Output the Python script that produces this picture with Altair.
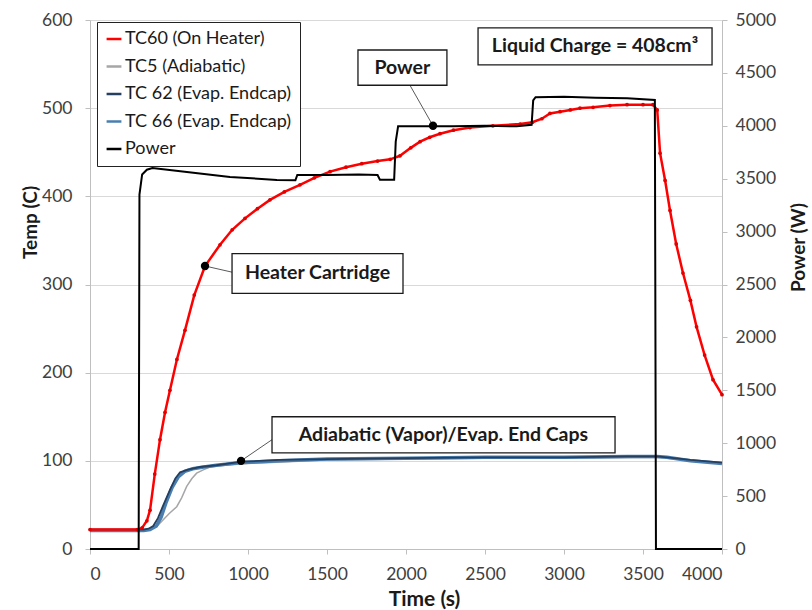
import altair as alt
import pandas as pd

FONT = "Lato"

# ---------------- data ----------------
series_names = ["TC60 (On Heater)", "TC5 (Adiabatic)", "TC 62 (Evap. Endcap)",
                "TC 66 (Evap. Endcap)", "Power"]
series_colors = ["#FF0000", "#A6A6A6", "#243F60", "#4A7EAF", "#000000"]

time_tc60 = [0, 300, 330, 360, 380, 410, 443, 475, 506, 550, 601, 660, 728, 823, 900, 981,
             1060, 1139, 1230, 1329, 1420, 1519, 1620, 1720, 1820, 1900, 1962, 2030, 2089,
             2150, 2215, 2300, 2405, 2550, 2722, 2800, 2860, 2911, 2975, 3040, 3101, 3184,
             3291, 3399, 3500, 3563, 3590, 3608, 3640, 3671, 3710, 3753, 3800, 3839, 3890,
             3943, 4000]
temp_tc60 = [22, 22, 24, 32, 44, 85, 124, 155, 180, 215, 248, 288, 321, 345, 362, 375,
             386, 396, 405, 413, 421, 428, 433, 437, 440, 442, 446, 455, 462,
             467, 471, 475, 478, 480, 482, 484, 488, 494, 496, 498, 500, 501,
             503, 504, 504, 504, 498, 449, 418, 384, 346, 313, 282, 252, 220,
             192, 175]

time_tc5 = [0, 380, 420, 462, 500, 549, 580, 612, 645, 675, 720, 759, 850, 1000, 1500,
            2000, 2500, 3000, 3589, 3652, 4000]
temp_tc5 = [22, 22, 25, 33, 40, 48, 58, 71, 80, 86, 90, 93, 95, 97, 101,
            102, 103, 103, 104, 103, 97]

time_tc62 = [0, 340, 370, 400, 430, 460, 506, 540, 570, 620, 696, 800, 960, 1200, 1500,
             2000, 2500, 3000, 3400, 3589, 3652, 3800, 4000]
temp_tc62 = [22, 22, 23, 26, 35, 48, 67, 80, 87, 90, 93, 95, 99, 101, 102,
             103, 104, 104, 105, 105, 104, 101, 98]

time_tc66 = [0, 340, 380, 420, 450, 480, 520, 560, 600, 650, 720, 800, 960, 1200, 1500,
             2000, 2500, 3000, 3400, 3589, 3652, 3800, 4000]
temp_tc66 = [21, 21, 22, 26, 36, 52, 70, 82, 88, 91, 93, 95, 98, 100, 102,
             103, 104, 104, 105, 105, 104, 100, 97]

time_power = [0, 308, 313, 330, 360, 395, 613, 886, 1183, 1300, 1312, 1500, 1700, 1820,
              1835, 1925, 1935, 1950, 2100, 2300, 2500, 2700, 2795, 2805, 2820, 3000,
              3200, 3400, 3575, 3582, 4000]
power_w = [0, 0, 3350, 3540, 3585, 3600, 3563, 3517, 3488, 3485, 3535, 3535, 3540, 3535,
           3490, 3490, 3850, 3995, 3995, 3995, 4000, 3995, 4010, 4240, 4270, 4275,
           4265, 4260, 4245, 0, 0]

x_ticks = list(range(0, 4001, 500))
temp_ticks = list(range(0, 601, 100))
power_ticks = list(range(0, 5001, 500))

# annotations (data coordinates: time, temperature)
ann_labels = ["Liquid Charge = 408cm³", "Power", "Heater Cartridge",
              "Adiabatic (Vapor)/Evap. End Caps"]
ann_box_t1 = [2456, 1696, 899, 1152]
ann_box_t2 = [3937, 2259, 1981, 3323]
ann_box_y1 = [549, 526, 290, 109]
ann_box_y2 = [591, 566, 335, 150]
ann_text_t = [3196, 1977, 1440, 2237]
ann_text_y = [570, 546, 312.5, 129.5]

ptr_labels = ["Power", "Heater Cartridge", "Adiabatic (Vapor)/Evap. End Caps"]
ptr_dot_t = [2171, 728, 956]
ptr_dot_y = [480, 321, 100]
ptr_end_t = [2025, 899, 1152]
ptr_end_y = [526, 314, 124]

# ---------------- tables ----------------
def frame(name, t, v):
    return pd.DataFrame({"time": t, "value": v, "series": name})

temp_df = pd.concat([
    frame(series_names[0], time_tc60, temp_tc60),
    frame(series_names[1], time_tc5, temp_tc5),
    frame(series_names[2], time_tc62, temp_tc62),
    frame(series_names[3], time_tc66, temp_tc66),
], ignore_index=True)
power_df = frame(series_names[4], time_power, power_w)

ann_df = pd.DataFrame({"label": ann_labels, "time": ann_box_t1, "t2": ann_box_t2,
                       "value": ann_box_y1, "y2": ann_box_y2})
ptr_df = pd.DataFrame({"label": ptr_labels, "time": ptr_dot_t, "value": ptr_dot_y,
                       "et": ptr_end_t, "ey": ptr_end_y})
txt_df = pd.DataFrame({"label": ann_labels, "time": ann_text_t, "value": ann_text_y})

# ---------------- scales / guides ----------------
x_scale = alt.Scale(domain=[0, 4000], nice=False, zero=False)
temp_scale = alt.Scale(domain=[0, 600], nice=False)
power_scale = alt.Scale(domain=[0, 5000], nice=False)
color_scale = alt.Scale(domain=series_names, range=series_colors)

legend = alt.Legend(title=None, orient="none", legendX=7, legendY=2,
                    direction="vertical", symbolType="stroke", symbolSize=220,
                    symbolStrokeWidth=2.5, labelFont=FONT, labelFontSize=18,
                    labelColor="#1a1a1a", strokeColor="#222222", fillColor="white",
                    padding=8, rowPadding=9.5, labelOffset=2, labelLimit=400)

LBL = 17.5
TTL = 19
x_axis = alt.Axis(values=x_ticks, format="d", title="Time (s)", grid=False,
                  domainColor="#BFBFBF", tickColor="#BFBFBF", tickSize=5,
                  labelFont=FONT, labelFontSize=LBL, labelColor="#404040",
                  labelPadding=11, titleFont=FONT, titleFontSize=21,
                  titleFontWeight="bold", titleColor="#1a1a1a",
                  titleX=334, titleY=50, titleBaseline="middle", titleAlign="center")
temp_axis = alt.Axis(values=temp_ticks, format="d", title="Temp (C)", orient="left",
                     grid=True, gridColor="#D9D9D9", domainColor="#BFBFBF",
                     tickColor="#BFBFBF", tickSize=5, labelFont=FONT, labelFontSize=LBL,
                     labelColor="#404040", labelPadding=13, titleFont=FONT,
                     titleFontSize=TTL, titleFontWeight="bold", titleColor="#1a1a1a",
                     titleAngle=270, titleX=-60, titleY=202, titleBaseline="middle",
                     titleAlign="center")
power_axis = alt.Axis(values=power_ticks, format="d", title="Power (W)", orient="right",
                      grid=False, domainColor="#BFBFBF", tickColor="#BFBFBF",
                      tickSize=5, labelFont=FONT, labelFontSize=LBL, labelColor="#404040",
                      labelPadding=8, titleFont=FONT, titleFontSize=TTL,
                      titleFontWeight="bold", titleColor="#1a1a1a",
                      titleAngle=270, titleX=76, titleY=227, titleBaseline="middle",
                      titleAlign="center")

X = alt.X("time:Q", scale=x_scale, axis=x_axis)
Y = alt.Y("value:Q", scale=temp_scale, axis=temp_axis)

widths = {series_names[0]: 2.5, series_names[1]: 1.5, series_names[2]: 1.8,
          series_names[3]: 3.5}

def temp_line(name):
    return alt.Chart(temp_df).transform_filter(alt.datum.series == name).mark_line(
        strokeWidth=widths[name]).encode(
        x=X, y=Y,
        color=alt.Color("series:N", scale=color_scale, legend=legend),
    )

red_points = alt.Chart(temp_df).transform_filter(
    alt.datum.series == series_names[0]).mark_circle(
    size=14, opacity=1, color="#E00000").encode(x=X, y=Y)

boxes = alt.Chart(ann_df).mark_rect(fill="white", stroke="#1a1a1a", strokeWidth=1.3).encode(
    x=X, x2="t2:Q", y=Y, y2="y2:Q",
)
texts = alt.Chart(txt_df).mark_text(
    font=FONT, fontSize=19.5, fontWeight="bold", color="#1a1a1a").encode(
    x=X, y=Y, text="label:N")
pointers = alt.Chart(ptr_df).mark_rule(color="#595959", strokeWidth=1).encode(
    x=X, x2="et:Q", y=Y, y2="ey:Q",
)
dots = alt.Chart(ptr_df).mark_circle(size=70, color="black", opacity=1).encode(
    x=X, y=Y,
)

temp_layer = alt.layer(
    temp_line(series_names[1]),
    temp_line(series_names[3]),
    temp_line(series_names[2]),
    temp_line(series_names[0]),
    red_points,
    pointers, boxes, texts, dots,
)

power_layer = alt.Chart(power_df).mark_line(strokeWidth=2).encode(
    x=X,
    y=alt.Y("value:Q", scale=power_scale, axis=power_axis),
    color=alt.Color("series:N", scale=color_scale, legend=legend),
)

chart = alt.layer(temp_layer, power_layer).resolve_scale(y="independent").properties(
    width=632, height=529,
    autosize=alt.AutoSizeParams(type="none"),
    padding={"left": 90, "top": 20, "right": 90, "bottom": 61},
    background="white",
).configure_view(stroke=None)

chart.save("out.html", embed_options={"renderer": "svg", "actions": False})
